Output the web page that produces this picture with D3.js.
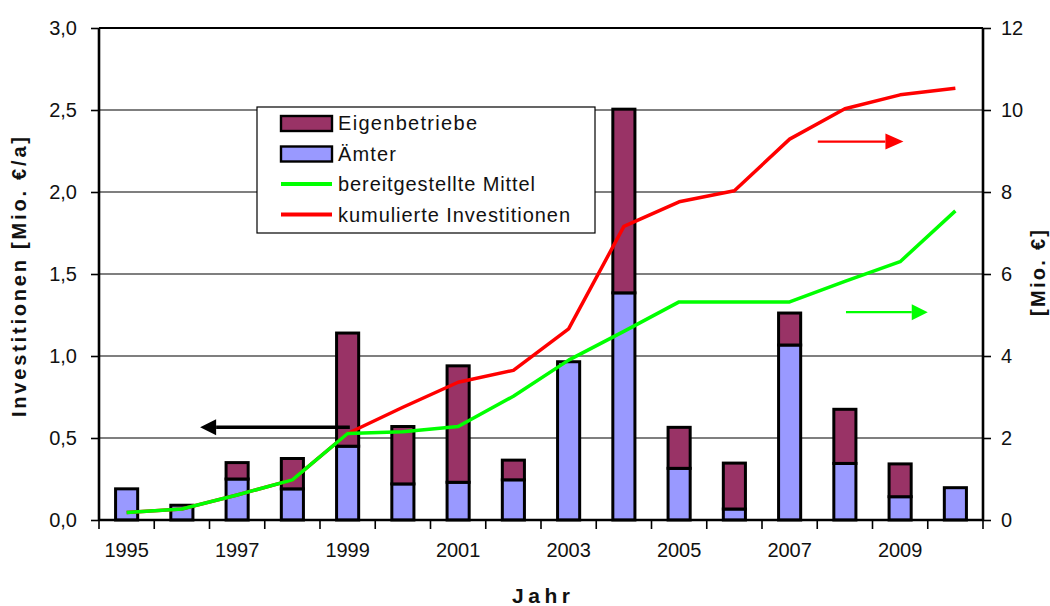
<!DOCTYPE html>
<html>
<head>
<meta charset="utf-8">
<script src="https://cdn.jsdelivr.net/npm/d3@7"></script>
<style>
  html, body { margin: 0; padding: 0; background: #fff; }
  svg { display: block; }
  text { font-family: "Liberation Sans", Arial, sans-serif; fill: #111; }
</style>
</head>
<body>
<svg id="chart" width="1050" height="606"></svg>
<script>
// Years on the x axis
const years = [1995, 1996, 1997, 1998, 1999, 2000, 2001, 2002, 2003, 2004, 2005, 2006, 2007, 2008, 2009, 2010];
// Annual investments, Mio. €/a (stacked bars)
const aemter        = [0.19, 0.09, 0.25, 0.19, 0.45, 0.22, 0.23, 0.245, 0.965, 1.385, 0.315, 0.067, 1.067, 0.345, 0.142, 0.197];
const eigenbetriebe = [0.00, 0.00, 0.10, 0.185, 0.69, 0.35, 0.71, 0.12, 0.00, 1.12, 0.25, 0.28, 0.195, 0.33, 0.20, 0.00];
// Cumulative amounts, Mio. € (right axis)
const bereitgestellt = [0.18, 0.27, 0.61, 0.98, 2.11, 2.15, 2.28, 3.02, 3.9, 4.6, 5.32, 5.32, 5.32, 5.82, 6.3, 7.54];
const kumuliert      = [0.18, 0.27, 0.61, 0.98, 2.11, 2.75, 3.36, 3.65, 4.66, 7.16, 7.76, 8.03, 9.29, 10.03, 10.37, 10.53];
// Axis ticks
const leftTicks  = [0, 0.5, 1.0, 1.5, 2.0, 2.5, 3.0];
const rightTicks = [0, 2, 4, 6, 8, 10, 12];
const yearLabels = [1995, 1997, 1999, 2001, 2003, 2005, 2007, 2009];
// Legend entries
const legendItems = [
  { label: "Eigenbetriebe", type: "rect", color: "#993366", len: 139 },
  { label: "Ämter", type: "rect", color: "#9999FF", len: 58 },
  { label: "bereitgestellte Mittel", type: "line", color: "#00FF00", len: 197 },
  { label: "kumulierte Investitionen", type: "line", color: "#FF0000", len: 232 }
];

const svg = d3.select("#chart");
const plotL = 99, plotR = 983, plotT = 28, plotB = 520;

const x = d3.scaleBand().domain(years).range([plotL, plotR]).paddingInner(0.6).paddingOuter(0.3);
const yL = d3.scaleLinear().domain([0, 3]).range([plotB, plotT]);
const yR = d3.scaleLinear().domain([0, 12]).range([plotB, plotT]);
const xc = yr => x(years[0]) + x.bandwidth() / 2 + (yr - years[0]) * x.step();

// horizontal gridlines
svg.append("g").selectAll("line").data(leftTicks.slice(1)).join("line")
  .attr("x1", plotL).attr("x2", plotR)
  .attr("y1", d => yL(d)).attr("y2", d => yL(d))
  .attr("stroke", "#000").attr("stroke-width", 1.2);

// stacked bars
const bars = svg.append("g").attr("stroke", "#000").attr("stroke-width", 3);
years.forEach((yr, i) => {
  bars.append("rect")
    .attr("x", x(yr)).attr("width", x.bandwidth())
    .attr("y", yL(aemter[i])).attr("height", yL(0) - yL(aemter[i]))
    .attr("fill", "#9999FF");
  if (eigenbetriebe[i] > 0) {
    bars.append("rect")
      .attr("x", x(yr)).attr("width", x.bandwidth())
      .attr("y", yL(aemter[i] + eigenbetriebe[i]))
      .attr("height", yL(aemter[i]) - yL(aemter[i] + eigenbetriebe[i]))
      .attr("fill", "#993366");
  }
});

// lines on the right axis
const line = d3.line().x((d, i) => x(years[i]) + x.bandwidth() / 2).y(d => yR(d));
svg.append("path").datum(kumuliert).attr("d", line)
  .attr("fill", "none").attr("stroke", "#FF0000").attr("stroke-width", 3.5).attr("stroke-linejoin", "round");
svg.append("path").datum(bereitgestellt).attr("d", line)
  .attr("fill", "none").attr("stroke", "#00FF00").attr("stroke-width", 3.5).attr("stroke-linejoin", "round");

// frame
svg.append("line").attr("x1", plotL).attr("x2", plotR).attr("y1", plotT).attr("y2", plotT)
  .attr("stroke", "#000").attr("stroke-width", 2);

// left axis
const axL = svg.append("g").attr("transform", `translate(${plotL},0)`)
  .call(d3.axisLeft(yL).tickValues(leftTicks).tickSize(8).tickPadding(14)
    .tickFormat(d => d3.format(".1f")(d).replace(".", ",")));
// right axis
const axR = svg.append("g").attr("transform", `translate(${plotR},0)`)
  .call(d3.axisRight(yR).tickValues(rightTicks).tickSize(8).tickPadding(10));
// bottom axis: labels at band centres
const axB = svg.append("g").attr("transform", `translate(0,${plotB})`)
  .call(d3.axisBottom(x).tickSize(0).tickPadding(23)
    .tickFormat(d => yearLabels.includes(d) ? String(d) : ""));
// category boundary ticks
svg.append("g").selectAll("line").data(d3.range(years.length + 1)).join("line")
  .attr("x1", i => plotL + i * x.step()).attr("x2", i => plotL + i * x.step())
  .attr("y1", plotB).attr("y2", plotB + 9)
  .attr("stroke", "#000").attr("stroke-width", 1.6);

[axL, axR, axB].forEach(g => {
  g.select(".domain").attr("stroke", "#000").attr("stroke-width", 2.6);
  g.selectAll(".tick line").attr("stroke", "#000").attr("stroke-width", 1.6);
  g.selectAll(".tick text").attr("font-size", 20).attr("fill", "#222")
    .attr("font-family", "'Liberation Sans', Arial, sans-serif");
});
axB.select(".domain").attr("d", `M${plotL},0H${plotR}`);
axL.select(".domain").attr("d", `M0,${plotT}V${plotB}`);
axR.select(".domain").attr("d", `M0,${plotT}V${plotB}`);

// axis titles
svg.append("text").attr("transform", `translate(26,${(137 + 417) / 2}) rotate(-90)`)
  .attr("text-anchor", "middle").attr("font-size", 20).attr("font-weight", "bold")
  .attr("textLength", 280).attr("lengthAdjust", "spacing")
  .text("Investitionen [Mio. €/a]");
svg.append("text").attr("transform", `translate(1045,273) rotate(-90)`)
  .attr("text-anchor", "middle").attr("font-size", 20).attr("font-weight", "bold")
  .attr("textLength", 86).attr("lengthAdjust", "spacing")
  .text("[Mio. €]");
svg.append("text").attr("x", (plotL + plotR) / 2).attr("y", 603)
  .attr("text-anchor", "middle").attr("font-size", 21).attr("font-weight", "bold")
  .attr("textLength", 58).attr("lengthAdjust", "spacing")
  .text("Jahr");

// direction arrows pointing to the relevant axis
function arrow(x1, x2, y, color, width, headLen, headHalf) {
  const dir = Math.sign(x2 - x1);
  svg.append("line").attr("x1", x1).attr("x2", x2 - dir * headLen).attr("y1", y).attr("y2", y)
    .attr("stroke", color).attr("stroke-width", width);
  svg.append("path")
    .attr("d", `M${x2},${y}L${x2 - dir * headLen},${y - headHalf}L${x2 - dir * headLen},${y + headHalf}Z`)
    .attr("fill", color);
}
arrow(xc(1999.04), xc(1996.33), yL(0.565), "#000", 3.5, 16, 8);
arrow(xc(2007.51), xc(2009.06), yR(9.23), "#FF0000", 2.2, 18, 8);
arrow(xc(2008.02), xc(2009.5), yR(5.07), "#00FF00", 2.2, 16, 8);

// legend
const lg = svg.append("g").attr("transform", "translate(257,107)");
lg.append("rect").attr("width", 338).attr("height", 126)
  .attr("fill", "#fff").attr("stroke", "#000").attr("stroke-width", 1.2);
legendItems.forEach((d, i) => {
  const cy = 16 + i * 30.5;
  if (d.type === "rect") {
    lg.append("rect").attr("x", 24).attr("y", cy - 7).attr("width", 51).attr("height", 15)
      .attr("fill", d.color).attr("stroke", "#000").attr("stroke-width", 2.4);
  } else {
    lg.append("line").attr("x1", 24).attr("x2", 75).attr("y1", cy).attr("y2", cy)
      .attr("stroke", d.color).attr("stroke-width", 4);
  }
  lg.append("text").attr("x", 81).attr("y", cy + 7).attr("font-size", 20)
    .attr("textLength", d.len).attr("lengthAdjust", "spacing")
    .text(d.label);
});
</script>
</body>
</html>
